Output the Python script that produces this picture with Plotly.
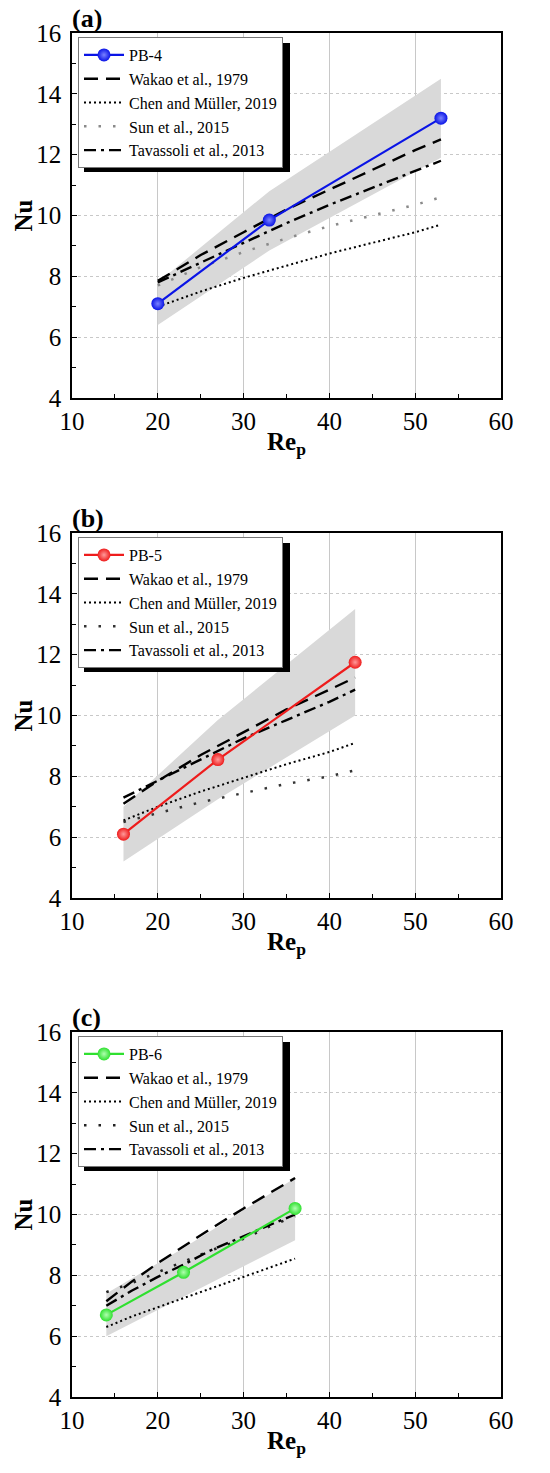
import plotly.graph_objects as go

# ---- panel (a): PB-4 ----
re_a = [20, 33, 53]
nu_a = [7.1, 9.85, 13.2]
band_hi_a = [7.8, 10.8, 14.5]
band_lo_a = [6.4, 8.85, 11.9]
re_corr_a = [20, 25, 30, 35, 40, 45, 50, 53]
wakao_a = [7.85, 8.7, 9.45, 10.2, 10.85, 11.5, 12.15, 12.5]
chen_a = [7.0, 7.5, 7.95, 8.35, 8.75, 9.1, 9.45, 9.7]
sun_a = [7.7, 8.3, 8.8, 9.25, 9.65, 10.0, 10.35, 10.6]
tav_a = [7.8, 8.45, 9.1, 9.75, 10.35, 10.9, 11.45, 11.8]

# ---- panel (b): PB-5 ----
re_b = [16, 27, 43]
nu_b = [6.1, 8.55, 11.75]
band_hi_b = [7.0, 9.85, 13.5]
band_lo_b = [5.2, 7.25, 10.0]
re_corr_b = [16, 20, 25, 30, 35, 40, 43]
wakao_b = [7.1, 7.85, 8.7, 9.45, 10.2, 10.85, 11.25]
chen_b = [6.55, 7.0, 7.5, 7.95, 8.4, 8.8, 9.1]
sun_b = [6.5, 6.8, 7.15, 7.45, 7.75, 8.0, 8.2]
tav_b = [7.3, 7.85, 8.55, 9.25, 9.85, 10.45, 10.85]

# ---- panel (c): PB-6 ----
re_c = [14, 23, 36]
nu_c = [6.7, 8.1, 10.2]
band_hi_c = [7.4, 8.9, 11.2]
band_lo_c = [6.0, 7.3, 9.15]
re_corr_c = [14, 17, 20, 23, 26, 30, 33, 36]
wakao_c = [7.15, 7.8, 8.4, 8.95, 9.5, 10.2, 10.7, 11.2]
chen_c = [6.3, 6.65, 6.95, 7.25, 7.55, 7.95, 8.25, 8.55]
sun_c = [7.45, 7.75, 8.1, 8.45, 8.8, 9.2, 9.6, 9.95]
tav_c = [7.0, 7.5, 7.95, 8.35, 8.8, 9.3, 9.65, 10.0]

W, H = 550, 1473
FONT = "Liberation Serif"

# pixel boxes of the three plot areas
X_L, X_R = 72, 501
panel_tops = [33, 533, 1032]
panel_h = 365

panels = [
    dict(tag="(a)", name="PB-4", color="#0a14e6", hl="#7a82ff", re=re_a, nu=nu_a, hi=band_hi_a,
         lo=band_lo_a, rc=re_corr_a, wakao=wakao_a, chen=chen_a, sun=sun_a, tav=tav_a,
         sun_col="#8a8a8a"),
    dict(tag="(b)", name="PB-5", color="#ee1c1c", hl="#ff9a9a", re=re_b, nu=nu_b, hi=band_hi_b,
         lo=band_lo_b, rc=re_corr_b, wakao=wakao_b, chen=chen_b, sun=sun_b, tav=tav_b,
         sun_col="#333333"),
    dict(tag="(c)", name="PB-6", color="#2fe02f", hl="#b0ffb0", re=re_c, nu=nu_c, hi=band_hi_c,
         lo=band_lo_c, rc=re_corr_c, wakao=wakao_c, chen=chen_c, sun=sun_c, tav=tav_c,
         sun_col="#222222"),
]

fig = go.Figure()
shapes = []
annotations = []
layout = {}

for i, p in enumerate(panels):
    n = "" if i == 0 else str(i + 1)
    xa, ya = "x" + n, "y" + n
    leg = "legend" + n
    top = panel_tops[i]
    bot = top + panel_h
    y0, y1 = 1 - bot / H, 1 - top / H

    # shaded band
    fig.add_trace(go.Scatter(x=p["re"] + p["re"][::-1], y=p["hi"] + p["lo"][::-1],
                             fill="toself", fillcolor="#d9d9d9", mode="lines",
                             line=dict(width=0), showlegend=False, hoverinfo="skip",
                             xaxis=xa, yaxis=ya))
    # correlations
    fig.add_trace(go.Scatter(x=p["rc"], y=p["wakao"], mode="lines", name="Wakao et al., 1979",
                             line=dict(color="black", width=2.4, dash="14px,8px"),
                             legend=leg, legendrank=2, xaxis=xa, yaxis=ya))
    fig.add_trace(go.Scatter(x=p["rc"], y=p["chen"], mode="lines", name="Chen and Müller, 2019",
                             line=dict(color="black", width=2, dash="2px,3px"),
                             legend=leg, legendrank=3, xaxis=xa, yaxis=ya))
    fig.add_trace(go.Scatter(x=p["rc"], y=p["sun"], mode="lines", name="Sun et al., 2015",
                             line=dict(color=p["sun_col"], width=2.5, dash="2.5px,12px"),
                             legend=leg, legendrank=4, xaxis=xa, yaxis=ya))
    fig.add_trace(go.Scatter(x=p["rc"], y=p["tav"], mode="lines", name="Tavassoli et al., 2013",
                             line=dict(color="black", width=2.4, dash="12px,5px,3px,5px"),
                             legend=leg, legendrank=5, xaxis=xa, yaxis=ya))
    # measured
    fig.add_trace(go.Scatter(x=p["re"], y=p["nu"], mode="lines+markers", name=p["name"],
                             line=dict(color=p["color"], width=2.2),
                             marker=dict(size=13, color=p["color"],
                                         gradient=dict(type="radial", color=p["hl"]),
                                         line=dict(width=0)),
                             legend=leg, legendrank=1, xaxis=xa, yaxis=ya))

    layout["xaxis" + n] = dict(
        domain=[X_L / W, X_R / W], anchor=ya, range=[10, 60], dtick=10, automargin=False,
        showline=True, linecolor="black", linewidth=1.5, mirror=True,
        ticks="inside", ticklen=5, tickcolor="black",
        minor=dict(ticks="inside", ticklen=4, dtick=5, tickcolor="black", showgrid=False),
        showgrid=True, gridcolor="#c8c8c8", gridwidth=1, zeroline=False,
        tickfont=dict(family=FONT, size=25, color="black"), ticklabelstandoff=0)
    layout["yaxis" + n] = dict(
        domain=[y0, y1], anchor=xa, range=[4, 16], dtick=2, automargin=False,
        showline=True, linecolor="black", linewidth=1.5, mirror=True,
        ticks="inside", ticklen=5, tickcolor="black",
        minor=dict(ticks="inside", ticklen=4, dtick=1, tickcolor="black", showgrid=False),
        showgrid=True, gridcolor="#c8c8c8", gridwidth=1, griddash="dot", zeroline=False,
        tickfont=dict(family=FONT, size=25, color="black"), ticklabelstandoff=4)
    layout[leg] = dict(
        x=78 / W, y=1 - (top + 4) / H, xanchor="left", yanchor="top",
        bgcolor="white", bordercolor="#777777", borderwidth=1,
        font=dict(family=FONT, size=16, color="black"), itemwidth=40,
        tracegroupgap=0)

    # legend shadow
    shapes.append(dict(type="rect", xref="paper", yref="paper",
                       x0=84 / W, x1=290 / W, y0=1 - (top + 139) / H, y1=1 - (top + 10) / H,
                       fillcolor="black", line=dict(width=0), layer="above"))

    annotations.append(dict(text="<b>" + p["tag"] + "</b>", xref="paper", yref="paper",
                            x=70 / W, y=1 - (top + 2) / H, xanchor="left", yanchor="bottom",
                            showarrow=False, font=dict(family=FONT, size=26, color="black")))
    annotations.append(dict(text="<b>Re<sub>p</sub></b>", xref="paper", yref="paper",
                            x=(X_L + X_R) / 2 / W, y=1 - (bot + 45) / H, xanchor="center",
                            yanchor="middle", showarrow=False,
                            font=dict(family=FONT, size=25, color="black")))
    annotations.append(dict(text="<b>Nu</b>", xref="paper", yref="paper",
                            x=23 / W, y=1 - (top + panel_h / 2) / H, xanchor="center",
                            yanchor="middle", textangle=-90, showarrow=False,
                            font=dict(family=FONT, size=25, color="black")))

fig.update_layout(width=W, height=H, margin=dict(l=0, r=0, t=0, b=0),
                  plot_bgcolor="white", paper_bgcolor="white",
                  shapes=shapes, annotations=annotations, **layout)

# drop the browser's default 8px page margin so the figure sits at the window origin
fig.write_html("out.html", config={"displayModeBar": False},
               post_script="document.body.style.margin = '0';")
